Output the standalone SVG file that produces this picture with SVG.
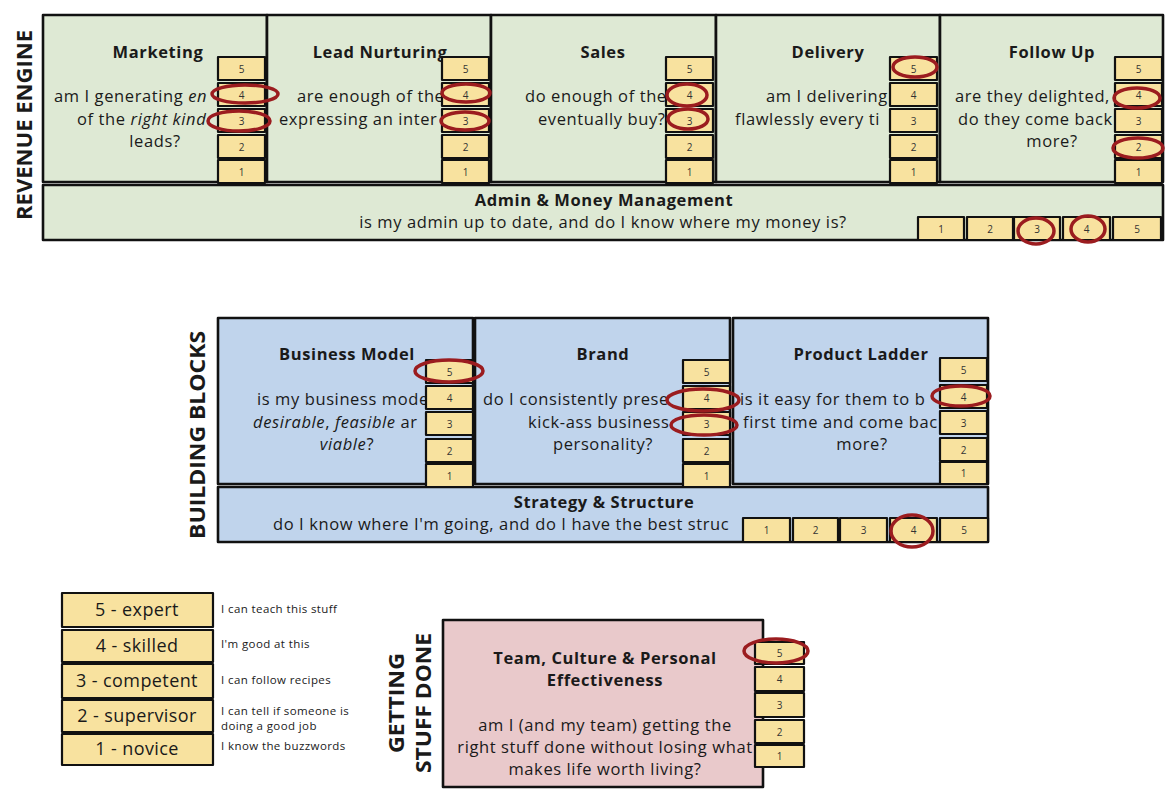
<svg xmlns="http://www.w3.org/2000/svg" width="1175" height="799" viewBox="0 0 1175 799">
<style>
.bg{fill:#ffffff}
.g{fill:#dee9d4;stroke:#111;stroke-width:2.6;stroke-linejoin:round}
.b{fill:#c0d4ec;stroke:#111;stroke-width:2.6;stroke-linejoin:round}
.p{fill:#e9c9cb;stroke:#111;stroke-width:2.6;stroke-linejoin:round}
.s{fill:#f8e29f;stroke:#111;stroke-width:2.2;stroke-linejoin:round}
.r{fill:none;stroke:#9b1c1f;stroke-width:3.5}
text{font-family:"Open Sans","Liberation Sans",sans-serif;fill:#1a1a1a}
.t{font-size:16.5px;font-weight:700;text-anchor:middle;letter-spacing:0.6px}
.q{font-size:16.5px;letter-spacing:0.6px}
.qm{font-size:16.5px;text-anchor:middle;letter-spacing:0.6px}
.n{font-size:10px;text-anchor:middle;fill:#333}
.side{font-size:22px;font-weight:700;text-anchor:middle}
.lg{font-size:18px;text-anchor:middle;letter-spacing:0.4px}
.ld{font-size:11.5px;letter-spacing:0.4px}
.i{font-style:italic}
</style>
<rect class="bg" x="0" y="0" width="1175" height="799"/>

<text class="side" transform="translate(32,125) rotate(-90)" textLength="190" lengthAdjust="spacingAndGlyphs">REVENUE ENGINE</text>
<text class="side" transform="translate(205,435) rotate(-90)" textLength="208" lengthAdjust="spacingAndGlyphs">BUILDING BLOCKS</text>
<text class="side" transform="translate(404,703) rotate(-90)" textLength="100" lengthAdjust="spacingAndGlyphs">GETTING</text>
<text class="side" transform="translate(431,703) rotate(-90)" textLength="140" lengthAdjust="spacingAndGlyphs">STUFF DONE</text>

<g id="marketing">
<rect class="g" x="43" y="15" width="224" height="167"/>
<text class="t" x="158" y="58">Marketing</text>
<text class="q" x="54" y="102">am I generating <tspan class="i">en</tspan></text>
<text class="q" x="77" y="125">of the <tspan class="i">right kind</tspan></text>
<text class="qm" x="155" y="147">leads?</text>
</g>
<g id="lead-nurturing">
<rect class="g" x="267" y="15" width="224" height="167"/>
<text class="t" x="380" y="58">Lead Nurturing</text>
<text class="q" x="297" y="102">are enough of the</text>
<text class="q" x="279" y="125">expressing an inter</text>
</g>
<g id="sales">
<rect class="g" x="491" y="15" width="225" height="167"/>
<text class="t" x="603" y="58">Sales</text>
<text class="q" x="525" y="102">do enough of the</text>
<text class="q" x="538" y="125">eventually buy?</text>
</g>
<g id="delivery">
<rect class="g" x="716" y="15" width="224" height="167"/>
<text class="t" x="828" y="58">Delivery</text>
<text class="q" x="766" y="102">am I delivering</text>
<text class="q" x="735" y="125">flawlessly every ti</text>
</g>
<g id="follow-up">
<rect class="g" x="940" y="15" width="223" height="167"/>
<text class="t" x="1052" y="58">Follow Up</text>
<text class="q" x="955" y="102">are they delighted,</text>
<text class="q" x="958" y="125">do they come back</text>
<text class="qm" x="1052" y="147">more?</text>
</g>
<g id="admin">
<rect class="g" x="43" y="185" width="1120" height="55"/>
<text class="t" x="604" y="206">Admin &amp; Money Management</text>
<text class="qm" x="603" y="228">is my admin up to date, and do I know where my money is?</text>
</g>

<g id="business-model">
<rect class="b" x="218" y="318" width="255" height="166"/>
<text class="t" x="347" y="360">Business Model</text>
<text class="q" x="257" y="405">is my business mode</text>
<text class="q" x="253" y="428"><tspan class="i">desirable</tspan>, <tspan class="i">feasible</tspan> ar</text>
<text class="qm" x="347" y="450"><tspan class="i">viable</tspan>?</text>
</g>
<g id="brand">
<rect class="b" x="475" y="318" width="255" height="166"/>
<text class="t" x="603" y="360">Brand</text>
<text class="q" x="483" y="405">do I consistently prese</text>
<text class="q" x="528" y="428">kick-ass business</text>
<text class="qm" x="603" y="450">personality?</text>
</g>
<g id="product-ladder">
<rect class="b" x="733" y="318" width="255" height="166"/>
<text class="t" x="861" y="360">Product Ladder</text>
<text class="q" x="740" y="405">is it easy for them to b</text>
<text class="q" x="743" y="428">first time and come bac</text>
<text class="qm" x="862" y="450">more?</text>
</g>
<g id="strategy">
<rect class="b" x="218" y="487" width="770" height="55"/>
<text class="t" x="604" y="508">Strategy &amp; Structure</text>
<text class="q" x="273" y="530">do I know where I'm going, and do I have the best struc</text>
</g>

<g id="team">
<rect class="p" x="443" y="620" width="320" height="167"/>
<text class="t" x="605" y="664">Team, Culture &amp; Personal</text>
<text class="t" x="605" y="686">Effectiveness</text>
<text class="qm" x="605" y="731">am I (and my team) getting the</text>
<text class="qm" x="605" y="753">right stuff done without losing what</text>
<text class="qm" x="605" y="775">makes life worth living?</text>
</g>

<g id="scores">
<rect class="s" x="218" y="57" width="47" height="23"/><text class="n" x="241.5" y="72.5">5</text>
<rect class="s" x="218" y="83" width="47" height="23"/><text class="n" x="241.5" y="98.5">4</text>
<rect class="s" x="218" y="109" width="47" height="23"/><text class="n" x="241.5" y="124.5">3</text>
<rect class="s" x="218" y="135" width="47" height="23"/><text class="n" x="241.5" y="150.5">2</text>
<rect class="s" x="218" y="160" width="47" height="23"/><text class="n" x="241.5" y="175.5">1</text>
<rect class="s" x="442" y="57" width="47" height="23"/><text class="n" x="465.5" y="72.5">5</text>
<rect class="s" x="442" y="83" width="47" height="23"/><text class="n" x="465.5" y="98.5">4</text>
<rect class="s" x="442" y="109" width="47" height="23"/><text class="n" x="465.5" y="124.5">3</text>
<rect class="s" x="442" y="135" width="47" height="23"/><text class="n" x="465.5" y="150.5">2</text>
<rect class="s" x="442" y="160" width="47" height="23"/><text class="n" x="465.5" y="175.5">1</text>
<rect class="s" x="666" y="57" width="47" height="23"/><text class="n" x="689.5" y="72.5">5</text>
<rect class="s" x="666" y="83" width="47" height="23"/><text class="n" x="689.5" y="98.5">4</text>
<rect class="s" x="666" y="109" width="47" height="23"/><text class="n" x="689.5" y="124.5">3</text>
<rect class="s" x="666" y="135" width="47" height="23"/><text class="n" x="689.5" y="150.5">2</text>
<rect class="s" x="666" y="160" width="47" height="23"/><text class="n" x="689.5" y="175.5">1</text>
<rect class="s" x="890" y="57" width="47" height="23"/><text class="n" x="913.5" y="72.5">5</text>
<rect class="s" x="890" y="83" width="47" height="23"/><text class="n" x="913.5" y="98.5">4</text>
<rect class="s" x="890" y="109" width="47" height="23"/><text class="n" x="913.5" y="124.5">3</text>
<rect class="s" x="890" y="135" width="47" height="23"/><text class="n" x="913.5" y="150.5">2</text>
<rect class="s" x="890" y="160" width="47" height="23"/><text class="n" x="913.5" y="175.5">1</text>
<rect class="s" x="1115" y="57" width="47" height="23"/><text class="n" x="1138.5" y="72.5">5</text>
<rect class="s" x="1115" y="83" width="47" height="23"/><text class="n" x="1138.5" y="98.5">4</text>
<rect class="s" x="1115" y="109" width="47" height="23"/><text class="n" x="1138.5" y="124.5">3</text>
<rect class="s" x="1115" y="135" width="47" height="23"/><text class="n" x="1138.5" y="150.5">2</text>
<rect class="s" x="1115" y="160" width="47" height="23"/><text class="n" x="1138.5" y="175.5">1</text>
<rect class="s" x="918" y="217" width="46" height="23"/><text class="n" x="941" y="232.5">1</text>
<rect class="s" x="967" y="217" width="46" height="23"/><text class="n" x="990" y="232.5">2</text>
<rect class="s" x="1014" y="217" width="46" height="23"/><text class="n" x="1037" y="232.5">3</text>
<rect class="s" x="1063" y="217" width="47" height="23"/><text class="n" x="1086.5" y="232.5">4</text>
<rect class="s" x="1113" y="217" width="48" height="23"/><text class="n" x="1137" y="232.5">5</text>
<rect class="s" x="426" y="360" width="47" height="23"/><text class="n" x="449.5" y="375.5">5</text>
<rect class="s" x="426" y="386" width="47" height="23"/><text class="n" x="449.5" y="401.5">4</text>
<rect class="s" x="426" y="412" width="47" height="23"/><text class="n" x="449.5" y="427.5">3</text>
<rect class="s" x="426" y="439" width="47" height="23"/><text class="n" x="449.5" y="454.5">2</text>
<rect class="s" x="426" y="464" width="47" height="23"/><text class="n" x="449.5" y="479.5">1</text>
<rect class="s" x="683" y="360" width="47" height="23"/><text class="n" x="706.5" y="375.5">5</text>
<rect class="s" x="683" y="386" width="47" height="23"/><text class="n" x="706.5" y="401.5">4</text>
<rect class="s" x="683" y="412" width="47" height="23"/><text class="n" x="706.5" y="427.5">3</text>
<rect class="s" x="683" y="439" width="47" height="23"/><text class="n" x="706.5" y="454.5">2</text>
<rect class="s" x="683" y="464" width="47" height="23"/><text class="n" x="706.5" y="479.5">1</text>
<rect class="s" x="940" y="358" width="47" height="23"/><text class="n" x="963.5" y="373.5">5</text>
<rect class="s" x="940" y="385" width="47" height="23"/><text class="n" x="963.5" y="400.5">4</text>
<rect class="s" x="940" y="411" width="47" height="23"/><text class="n" x="963.5" y="426.5">3</text>
<rect class="s" x="940" y="438" width="47" height="23"/><text class="n" x="963.5" y="453.5">2</text>
<rect class="s" x="940" y="462" width="47" height="22"/><text class="n" x="963.5" y="477">1</text>
<rect class="s" x="743" y="518" width="47" height="24"/><text class="n" x="766.5" y="534">1</text>
<rect class="s" x="793" y="518" width="45" height="24"/><text class="n" x="815.5" y="534">2</text>
<rect class="s" x="840" y="518" width="47" height="24"/><text class="n" x="863.5" y="534">3</text>
<rect class="s" x="890" y="518" width="47" height="24"/><text class="n" x="913.5" y="534">4</text>
<rect class="s" x="940" y="518" width="48" height="24"/><text class="n" x="964" y="534">5</text>
<rect class="s" x="755" y="642" width="49" height="22"/><text class="n" x="779.5" y="656.5">5</text>
<rect class="s" x="755" y="667" width="49" height="24"/><text class="n" x="779.5" y="682.5">4</text>
<rect class="s" x="755" y="693" width="49" height="24"/><text class="n" x="779.5" y="708.5">3</text>
<rect class="s" x="755" y="720" width="49" height="23"/><text class="n" x="779.5" y="735.5">2</text>
<rect class="s" x="755" y="745" width="49" height="22"/><text class="n" x="779.5" y="759.5">1</text>
</g>

<g id="ratings">
<ellipse class="r" cx="245" cy="94" rx="33" ry="9"/>
<ellipse class="r" cx="239" cy="121" rx="31" ry="10"/>
<ellipse class="r" cx="466" cy="93" rx="24" ry="9"/>
<ellipse class="r" cx="465" cy="121" rx="24" ry="9"/>
<ellipse class="r" cx="687" cy="95" rx="20" ry="11"/>
<ellipse class="r" cx="688" cy="119" rx="20" ry="10"/>
<ellipse class="r" cx="915" cy="67" rx="22" ry="10"/>
<ellipse class="r" cx="1137" cy="98" rx="23" ry="10"/>
<ellipse class="r" cx="1138" cy="148" rx="25" ry="10"/>
<ellipse class="r" cx="1036" cy="231" rx="18" ry="13"/>
<ellipse class="r" cx="1088" cy="229" rx="17" ry="13"/>
<ellipse class="r" cx="449" cy="371" rx="34" ry="11"/>
<ellipse class="r" cx="703" cy="400" rx="36" ry="11"/>
<ellipse class="r" cx="704" cy="425" rx="33" ry="10"/>
<ellipse class="r" cx="961" cy="396" rx="29" ry="10"/>
<ellipse class="r" cx="912" cy="531" rx="21" ry="16"/>
<ellipse class="r" cx="776" cy="651" rx="32" ry="12"/>
</g>

<g id="legend">
<rect class="s" x="62" y="593" width="151" height="34"/><text class="lg" x="137" y="616">5 - expert</text>
<rect class="s" x="62" y="630" width="151" height="32"/><text class="lg" x="137" y="652">4 - skilled</text>
<rect class="s" x="62" y="664" width="151" height="34"/><text class="lg" x="137" y="687">3 - competent</text>
<rect class="s" x="62" y="700" width="151" height="32"/><text class="lg" x="137" y="722">2 - supervisor</text>
<rect class="s" x="62" y="734" width="151" height="31"/><text class="lg" x="137" y="755">1 - novice</text>
<text class="ld" x="221" y="613">I can teach this stuff</text>
<text class="ld" x="221" y="648">I'm good at this</text>
<text class="ld" x="221" y="684">I can follow recipes</text>
<text class="ld" x="221" y="715">I can tell if someone is</text>
<text class="ld" x="221" y="730">doing a good job</text>
<text class="ld" x="221" y="750">I know the buzzwords</text>
</g>
</svg>
